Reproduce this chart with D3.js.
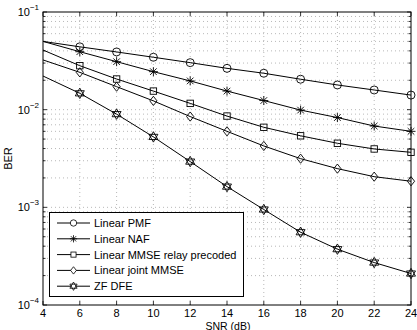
<!DOCTYPE html>
<html>
<head>
<meta charset="utf-8">
<script src="https://cdn.jsdelivr.net/npm/d3@7"></script>
<style>
  body { margin: 0; background: #fff; }
  svg { display: block; font-family: "Liberation Sans", Arial, sans-serif; }
</style>
</head>
<body>
<div id="chart"></div>
<script>
(function() {
  // data
  var snr = [4, 6, 8, 10, 12, 14, 16, 18, 20, 22, 24];
  var pmf   = [0.050, 0.044, 0.039, 0.0344, 0.0303, 0.0265, 0.0236, 0.0205, 0.0179, 0.0159, 0.0141];
  var naf   = [0.050, 0.0392, 0.031, 0.0245, 0.0197, 0.0155, 0.0124, 0.0099, 0.0083, 0.0068, 0.0060];
  var relay = [0.0408, 0.0282, 0.0206, 0.0155, 0.0116, 0.0086, 0.0066, 0.0054, 0.00453, 0.00396, 0.00366];
  var joint = [0.0323, 0.0241, 0.0172, 0.0123, 0.0085, 0.0060, 0.00425, 0.00315, 0.00249, 0.00206, 0.00185];
  var zf    = [0.0221, 0.0147, 0.0090, 0.00526, 0.00294, 0.00163, 0.00095, 0.000556, 0.000373, 0.000272, 0.00021];
  var names = ['Linear PMF', 'Linear NAF', 'Linear MMSE relay precoded', 'Linear joint MMSE', 'ZF DFE'];
  var markers = ['circle', 'asterisk', 'square', 'diamond', 'hexagram'];
  var xTicks = [4, 6, 8, 10, 12, 14, 16, 18, 20, 22, 24];
  var yTicks = [1e-4, 1e-3, 1e-2, 1e-1];

  var series = [pmf, naf, relay, joint, zf].map(function(v, i) {
    return { name: names[i], marker: markers[i], values: v };
  });

  // config
  var W = 417, H = 330,
      left = 43, right = 411, top = 12, bottom = 305;

  var x = d3.scaleLinear().domain([4, 24]).range([left, right]);
  var y = d3.scaleLog().domain([1e-4, 1e-1]).range([bottom, top]);

  var svg = d3.select('#chart').append('svg')
    .attr('width', W)
    .attr('height', H);

  // minor y values
  var minor = [];
  [1e-4, 1e-3, 1e-2].forEach(function(d) {
    for (var k = 2; k <= 9; k++) minor.push(d * k);
  });

  // grid
  var grid = svg.append('g')
    .attr('stroke', '#999')
    .attr('stroke-width', 0.7)
    .attr('stroke-dasharray', '1,3');

  xTicks.slice(1, -1).forEach(function(t) {
    grid.append('line')
      .attr('x1', x(t)).attr('x2', x(t))
      .attr('y1', top).attr('y2', bottom);
  });
  yTicks.slice(1, -1).concat(minor).forEach(function(t) {
    grid.append('line')
      .attr('x1', left).attr('x2', right)
      .attr('y1', y(t)).attr('y2', y(t));
  });

  // ticks (inward, all four sides)
  var ticks = svg.append('g').attr('stroke', '#000').attr('stroke-width', 0.8);
  xTicks.forEach(function(t) {
    ticks.append('line').attr('x1', x(t)).attr('x2', x(t)).attr('y1', bottom).attr('y2', bottom - 4);
    ticks.append('line').attr('x1', x(t)).attr('x2', x(t)).attr('y1', top).attr('y2', top + 4);
  });
  yTicks.forEach(function(t) {
    ticks.append('line').attr('x1', left).attr('x2', left + 4).attr('y1', y(t)).attr('y2', y(t));
    ticks.append('line').attr('x1', right).attr('x2', right - 4).attr('y1', y(t)).attr('y2', y(t));
  });
  minor.forEach(function(t) {
    ticks.append('line').attr('x1', left).attr('x2', left + 2.5).attr('y1', y(t)).attr('y2', y(t));
    ticks.append('line').attr('x1', right).attr('x2', right - 2.5).attr('y1', y(t)).attr('y2', y(t));
  });

  // frame
  svg.append('rect')
    .attr('x', left).attr('y', top)
    .attr('width', right - left).attr('height', bottom - top)
    .attr('fill', 'none')
    .attr('stroke', '#000')
    .attr('stroke-width', 1);

  // tick labels
  svg.append('g').selectAll('text')
    .data(xTicks)
    .join('text')
    .attr('x', function(d) { return x(d); })
    .attr('y', bottom + 12)
    .attr('text-anchor', 'middle')
    .attr('font-size', 11)
    .text(function(d) { return d; });

  var yl = svg.append('g').selectAll('text')
    .data(yTicks)
    .join('text')
    .attr('x', left - 4)
    .attr('y', function(d) { return y(d) + 4; })
    .attr('text-anchor', 'end')
    .attr('font-size', 11);
  yl.append('tspan').text('10');
  yl.append('tspan')
    .attr('dy', -6)
    .attr('font-size', 8)
    .text(function(d) { return '\u2212' + Math.round(-Math.log10(d)); });

  // axis titles
  svg.append('text')
    .attr('x', (left + right) / 2 + 1)
    .attr('y', 329.5)
    .attr('text-anchor', 'middle')
    .attr('font-size', 10.5)
    .text('SNR  (dB)');

  svg.append('text')
    .attr('transform', 'translate(12,' + ((top + bottom) / 2) + ') rotate(-90)')
    .attr('text-anchor', 'middle')
    .attr('font-size', 11)
    .text('BER');

  // marker shapes
  function drawMarker(g, type) {
    if (type == 'circle') {
      g.append('circle').attr('r', 4);
    } else if (type == 'square') {
      g.append('rect').attr('x', -3.2).attr('y', -3.2).attr('width', 6.4).attr('height', 6.4);
    } else if (type == 'diamond') {
      g.append('path').attr('d', 'M0,-4.6L3.6,0L0,4.6L-3.6,0Z');
    } else if (type == 'asterisk') {
      g.append('path').attr('d', 'M-4.5,0H4.5M0,-4.5V4.5M-3.3,-3.3L3.3,3.3M-3.3,3.3L3.3,-3.3');
    } else if (type == 'hexagram') {
      var r = 5.2, p1 = [], p2 = [];
      for (var k = 0; k < 3; k++) {
        var a1 = -Math.PI / 2 + k * 2 * Math.PI / 3,
            a2 = Math.PI / 2 + k * 2 * Math.PI / 3;
        p1.push([r * Math.cos(a1), r * Math.sin(a1)]);
        p2.push([r * Math.cos(a2), r * Math.sin(a2)]);
      }
      g.append('path').attr('d', 'M' + p1.join('L') + 'Z' + 'M' + p2.join('L') + 'Z');
    }
  }

  // lines + markers (no marker at the first point)
  var line = d3.line()
    .x(function(d, i) { return x(snr[i]); })
    .y(function(d) { return y(d); });

  var plot = svg.append('g');
  series.forEach(function(s) {
    plot.append('path')
      .attr('d', line(s.values))
      .attr('fill', 'none')
      .attr('stroke', '#000')
      .attr('stroke-width', 1);

    s.values.forEach(function(v, i) {
      if (i == 0) return;
      var m = plot.append('g')
        .attr('transform', 'translate(' + x(snr[i]) + ',' + y(v) + ')')
        .attr('fill', 'none')
        .attr('stroke', '#000')
        .attr('stroke-width', 0.9);
      drawMarker(m, s.marker);
    });
  });

  // legend
  var lg = svg.append('g');
  lg.append('rect')
    .attr('x', 49.5).attr('y', 212.5)
    .attr('width', 194).attr('height', 84)
    .attr('fill', '#fff')
    .attr('stroke', '#000')
    .attr('stroke-width', 1);

  series.forEach(function(s, i) {
    var ly = 223 + i * 15.8;
    lg.append('line')
      .attr('x1', 57).attr('x2', 90)
      .attr('y1', ly).attr('y2', ly)
      .attr('stroke', '#000')
      .attr('stroke-width', 1);
    var m = lg.append('g')
      .attr('transform', 'translate(73.5,' + ly + ') scale(0.8)')
      .attr('fill', '#fff')
      .attr('stroke', '#000')
      .attr('stroke-width', 1);
    drawMarker(m, s.marker);
    lg.append('text')
      .attr('x', 94)
      .attr('y', ly + 4)
      .attr('font-size', 11)
      .text(s.name);
  });
})();
</script>
</body>
</html>
